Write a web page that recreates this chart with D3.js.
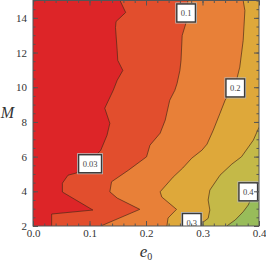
<!DOCTYPE html>
<html>
<head>
<meta charset="utf-8">
<script src="https://cdn.jsdelivr.net/npm/d3@7"></script>
<style>
body { margin: 0; background: #fff; }
svg { display: block; }
</style>
</head>
<body>
<svg id="chart" width="266" height="261"></svg>
<script>
//----------DATA ([e0, M])----------

var levelNames = ['0.03', '0.1', '0.2', '0.3', '0.4'];
var bandColors = ['#dd2528', '#e24e2d', '#e88038', '#dea83a', '#c4b948', '#98bc5a'];

var contour003 = [[0.154,15.0],[0.164,14.31],[0.147,13.79],[0.146,13.44],[0.149,12.12],[0.150,11.55],
    [0.159,10.97],[0.149,10.40],[0.142,9.82],[0.127,8.79],[0.136,7.92],[0.131,7.23],[0.120,6.37],
    [0.115,6.20],[0.097,5.51],[0.076,5.05],[0.062,4.93],[0.052,4.47],[0.052,3.96],[0.106,2.92],
    [0.033,2.69],[0.033,2.0]];
var contour01 = [[0.274,15.0],[0.271,13.73],[0.264,12.98],[0.262,11.55],[0.260,10.97],[0.255,10.22],
    [0.251,9.82],[0.242,9.25],[0.234,8.10],[0.225,7.35],[0.207,6.66],[0.201,5.99],[0.169,5.22],
    [0.139,4.55],[0.136,3.97],[0.149,3.61],[0.189,2.96],[0.120,2.0]];
var contour02 = [[0.372,15.0],[0.375,14.42],[0.372,12.70],[0.366,11.16],[0.361,10.51],[0.350,9.82],
    [0.340,9.25],[0.331,8.50],[0.319,7.52],[0.308,6.72],[0.299,6.37],[0.281,5.91],[0.265,5.34],
    [0.248,4.82],[0.225,3.97],[0.228,3.67],[0.254,2.96],[0.239,2.46],[0.237,2.0]];
var contour03 = [[0.400,7.69],[0.390,6.95],[0.369,5.99],[0.352,5.57],[0.331,4.93],[0.313,4.07],
    [0.310,3.50],[0.313,2.92],[0.310,2.44],[0.292,2.0]];
var contour04 = [[0.400,4.19],[0.388,3.73],[0.381,3.21],[0.372,2.82],[0.358,2.35],[0.343,2.0]];
var contours = [contour003, contour01, contour02, contour03, contour04];

// where the level labels sit
var labelE = [0.101, 0.271, 0.358, 0.281, 0.381];
var labelM = [5.59, 14.28, 9.96, 2.2, 3.97];

var xMajor = [0, 0.1, 0.2, 0.3, 0.4];
var yMajor = [2, 4, 6, 8, 10, 12, 14];

//----------SETUP----------

var margin = {left: 33, top: 0.5, right: 7, bottom: 35};
var width = 266, height = 261;

var svg = d3.select('#chart');
var x = d3.scaleLinear().domain([0, 0.4]).range([margin.left, width - margin.right]);
var y = d3.scaleLinear().domain([2, 15]).range([height - margin.bottom, margin.top]);

svg.append('clipPath').attr('id', 'plotClip')
    .append('rect')
    .attr('x', x(0)).attr('y', y(15))
    .attr('width', x(0.4) - x(0)).attr('height', y(2) - y(15));

var plot = svg.append('g').attr('clip-path', 'url(#plotClip)');

var line = d3.line().x(function(d) {return x(d[0]);}).y(function(d) {return y(d[1]);});

//----------BANDS----------

plot.append('rect')
    .attr('x', x(0)).attr('y', y(15))
    .attr('width', x(0.4) - x(0)).attr('height', y(2) - y(15))
    .attr('fill', bandColors[0]);

contours.forEach(function(c, i) {
    var poly = c.slice();
    poly.push([0.4, 2]);
    if (c[0][1] === 15) poly.push([0.4, 15]);   // contour starts on top edge
    plot.append('path')
        .attr('d', line(poly) + 'Z')
        .attr('fill', bandColors[i + 1]);
});

contours.forEach(function(c) {
    plot.append('path')
        .attr('d', line(c))
        .attr('fill', 'none')
        .attr('stroke', '#4a2a18')
        .attr('stroke-width', 0.8)
        .attr('stroke-opacity', 0.85);
});

//----------LABELS----------

levelNames.forEach(function(name, i) {
    var g = plot.append('g').attr('transform', 'translate(' + x(labelE[i]) + ',' + y(labelM[i]) + ')');
    var halo = g.append('rect');
    var box = g.append('rect');
    var t = g.append('text')
        .attr('text-anchor', 'middle')
        .attr('dy', '0.35em')
        .attr('font-family', 'Liberation Serif, serif')
        .attr('font-size', 8.5)
        .attr('fill', '#444')
        .text(name);
    var w = t.node().getComputedTextLength() + 8;
    halo.attr('x', -w / 2 - 1).attr('y', -10).attr('width', w + 2).attr('height', 20)
        .attr('fill', 'none')
        .attr('stroke', '#bbb')
        .attr('stroke-width', 1);
    box.attr('x', -w / 2).attr('y', -9).attr('width', w).attr('height', 18)
        .attr('fill', '#fff')
        .attr('stroke', '#3a3a3a')
        .attr('stroke-width', 1.4);
});

//----------AXES----------

function styleAxis(g) {
    g.select('.domain').remove();
    g.selectAll('line').attr('stroke', '#555');
    g.selectAll('text')
        .attr('font-family', 'Liberation Serif, serif')
        .attr('font-size', 11)
        .attr('fill', '#333');
}

var xMinor = d3.range(0, 0.4001, 0.02);
var yMinor = d3.range(2, 15.001, 0.5);

svg.append('g').attr('transform', 'translate(0,' + y(2) + ')')
    .call(d3.axisBottom(x).tickValues(xMinor).tickSize(-2.5).tickFormat(''))
    .call(styleAxis);
svg.append('g').attr('transform', 'translate(0,' + y(2) + ')')
    .call(d3.axisBottom(x).tickValues(xMajor).tickSize(-5).tickPadding(3).tickFormat(d3.format('.1f')))
    .call(styleAxis);
svg.append('g').attr('transform', 'translate(0,' + y(15) + ')')
    .call(d3.axisTop(x).tickValues(xMinor).tickSize(-2.5).tickFormat(''))
    .call(styleAxis);
svg.append('g').attr('transform', 'translate(0,' + y(15) + ')')
    .call(d3.axisTop(x).tickValues(xMajor).tickSize(-5).tickFormat(''))
    .call(styleAxis);

svg.append('g').attr('transform', 'translate(' + x(0) + ',0)')
    .call(d3.axisLeft(y).tickValues(yMinor).tickSize(-2.5).tickFormat(''))
    .call(styleAxis);
svg.append('g').attr('transform', 'translate(' + x(0) + ',0)')
    .call(d3.axisLeft(y).tickValues(yMajor).tickSize(-5).tickPadding(6).tickFormat(d3.format('d')))
    .call(styleAxis);
svg.append('g').attr('transform', 'translate(' + x(0.4) + ',0)')
    .call(d3.axisRight(y).tickValues(yMinor).tickSize(-2.5).tickFormat(''))
    .call(styleAxis);
svg.append('g').attr('transform', 'translate(' + x(0.4) + ',0)')
    .call(d3.axisRight(y).tickValues(yMajor).tickSize(-5).tickFormat(''))
    .call(styleAxis);

// frame
svg.append('rect')
    .attr('x', x(0)).attr('y', y(15))
    .attr('width', x(0.4) - x(0)).attr('height', y(2) - y(15))
    .attr('fill', 'none')
    .attr('stroke', '#555')
    .attr('stroke-width', 1);

// axis titles
svg.append('text')
    .attr('x', 7.5).attr('y', 118)
    .attr('text-anchor', 'middle')
    .attr('font-family', 'Liberation Serif, serif')
    .attr('font-style', 'italic')
    .attr('font-size', 16)
    .attr('fill', '#333')
    .text('M');

var xt = svg.append('text')
    .attr('x', (x(0) + x(0.4)) / 2).attr('y', 257)
    .attr('text-anchor', 'middle')
    .attr('font-family', 'Liberation Serif, serif')
    .attr('fill', '#333');
xt.append('tspan').attr('font-style', 'italic').attr('font-size', 17).text('e');
xt.append('tspan').attr('font-size', 10).attr('dy', 3).text('0');
</script>
</body>
</html>
